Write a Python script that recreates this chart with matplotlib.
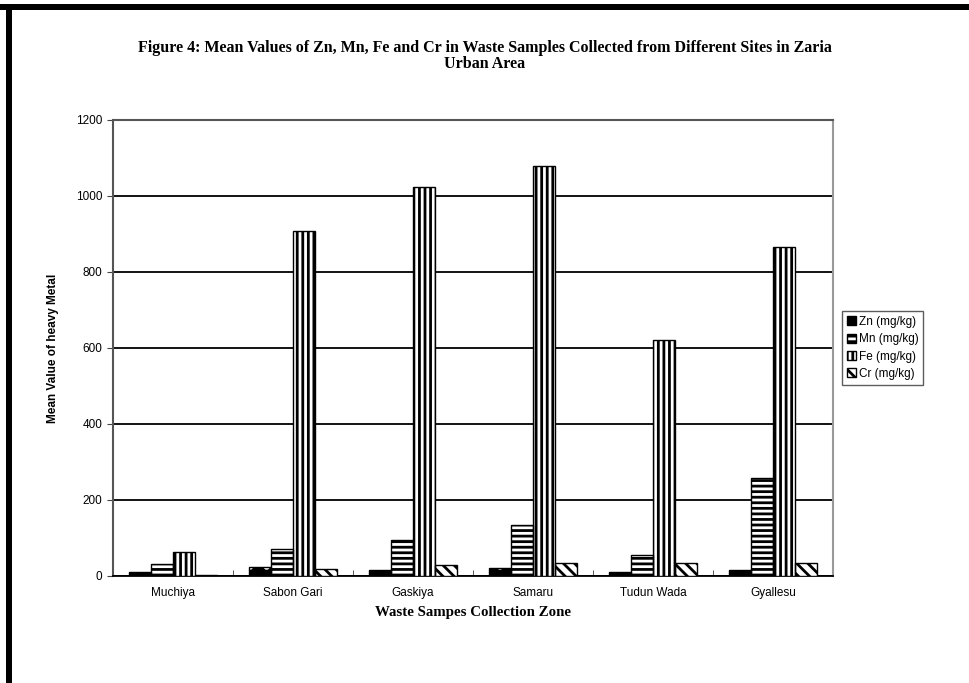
import matplotlib.pyplot as plt
import numpy as np
from matplotlib.patches import Rectangle

zones = ['Muchiya', 'Sabon Gari', 'Gaskiya', 'Samaru', 'Tudun Wada', 'Gyallesu']
zn = [10, 25, 15, 20, 10, 15]
mn = [32, 70, 95, 133, 55, 258]
fe = [62, 908, 1025, 1080, 620, 865]
cr = [2, 18, 30, 33, 33, 33]
labels = ['Zn (mg/kg)', 'Mn (mg/kg)', 'Fe (mg/kg)', 'Cr (mg/kg)']

plt.rcParams['hatch.linewidth'] = 2.0

fig = plt.figure(figsize=(9.69, 6.83), dpi=100)
ax = fig.add_axes([113 / 969, 1 - 576 / 683, (833 - 113) / 969, (576 - 120) / 683])

x = np.arange(len(zones))
w = 0.185
offs = [-1.5 * w, -0.5 * w, 0.5 * w, 1.5 * w]
series = [zn, mn, fe, cr]
styles = [
    dict(facecolor='black', hatch='.', hedge='white'),
    dict(facecolor='white', hatch='---', hedge='black'),
    dict(facecolor='white', hatch='|||', hedge='black'),
    dict(facecolor='white', hatch='\\\\\\', hedge='black'),
]

handles = []
for vals, off, st, lab in zip(series, offs, styles, labels):
    ax.bar(x + off, vals, w, facecolor=st['facecolor'], edgecolor=st['hedge'],
           hatch=st['hatch'], linewidth=0, zorder=3)
    ax.bar(x + off, vals, w, facecolor='none', edgecolor='black', linewidth=1.0, zorder=4)
    handles.append(Rectangle((0, 0), 1, 1, facecolor=st['facecolor'], edgecolor='black',
                             hatch=st['hatch'], linewidth=1.0))

ax.set_xlim(-0.5, len(zones) - 0.5)
ax.set_ylim(0, 1200)
ax.set_yticks(range(0, 1201, 200))
ax.set_xticks(x)
ax.set_xticklabels(zones, fontsize=8.5, family='Liberation Sans')
ax.set_xticks(np.arange(-0.5, len(zones), 1), minor=True)
ax.tick_params(axis='x', which='major', length=0, pad=8)
ax.tick_params(axis='x', which='minor', length=4, direction='in', color='#444444')
ax.tick_params(axis='y', length=4, direction='out', color='#444444', labelsize=8.5)
for t in ax.get_yticklabels():
    t.set_family('Liberation Sans')

ax.yaxis.grid(True, color='black', linewidth=1.3, zorder=1)
ax.set_axisbelow(True)
for s in ['left', 'top']:
    ax.spines[s].set_color('#555555')
    ax.spines[s].set_linewidth(1.5)
ax.spines['right'].set_color('#999999')
ax.spines['right'].set_linewidth(1.5)
ax.spines['bottom'].set_color('black')
ax.spines['bottom'].set_linewidth(1.3)

ax.set_ylabel('Mean Value of heavy Metal', fontsize=8.5, fontweight='bold',
              family='Liberation Sans', labelpad=12)
ax.set_xlabel('Waste Sampes Collection Zone', fontsize=10.7, fontweight='bold',
              family='Liberation Serif', labelpad=5)

fig.text(0.5, 1 - 56 / 683,
         'Figure 4: Mean Values of Zn, Mn, Fe and Cr in Waste Samples Collected from Different Sites in Zaria\nUrban Area',
         ha='center', va='center', fontsize=11.5, fontweight='bold', family='Liberation Serif',
         linespacing=0.95)

leg = fig.legend(handles, labels, loc='center left', bbox_to_anchor=(842 / 969, 1 - 348 / 683),
                 frameon=True, fancybox=False, handlelength=0.8, handleheight=0.8,
                 handletextpad=0.2, borderpad=0.4, labelspacing=0.45, borderaxespad=0,
                 prop={'family': 'Liberation Sans', 'size': 8.5})
leg.get_frame().set_edgecolor('#333333')
leg.get_frame().set_linewidth(1.0)

# page border lines
fig.patches.append(Rectangle((0, 1 - 10 / 683), 1, 6 / 683, transform=fig.transFigure,
                             facecolor='black', edgecolor='none'))
fig.patches.append(Rectangle((6 / 969, 0), 6 / 969, 1 - 4 / 683, transform=fig.transFigure,
                             facecolor='black', edgecolor='none'))

fig.savefig('out.png', dpi=100)
